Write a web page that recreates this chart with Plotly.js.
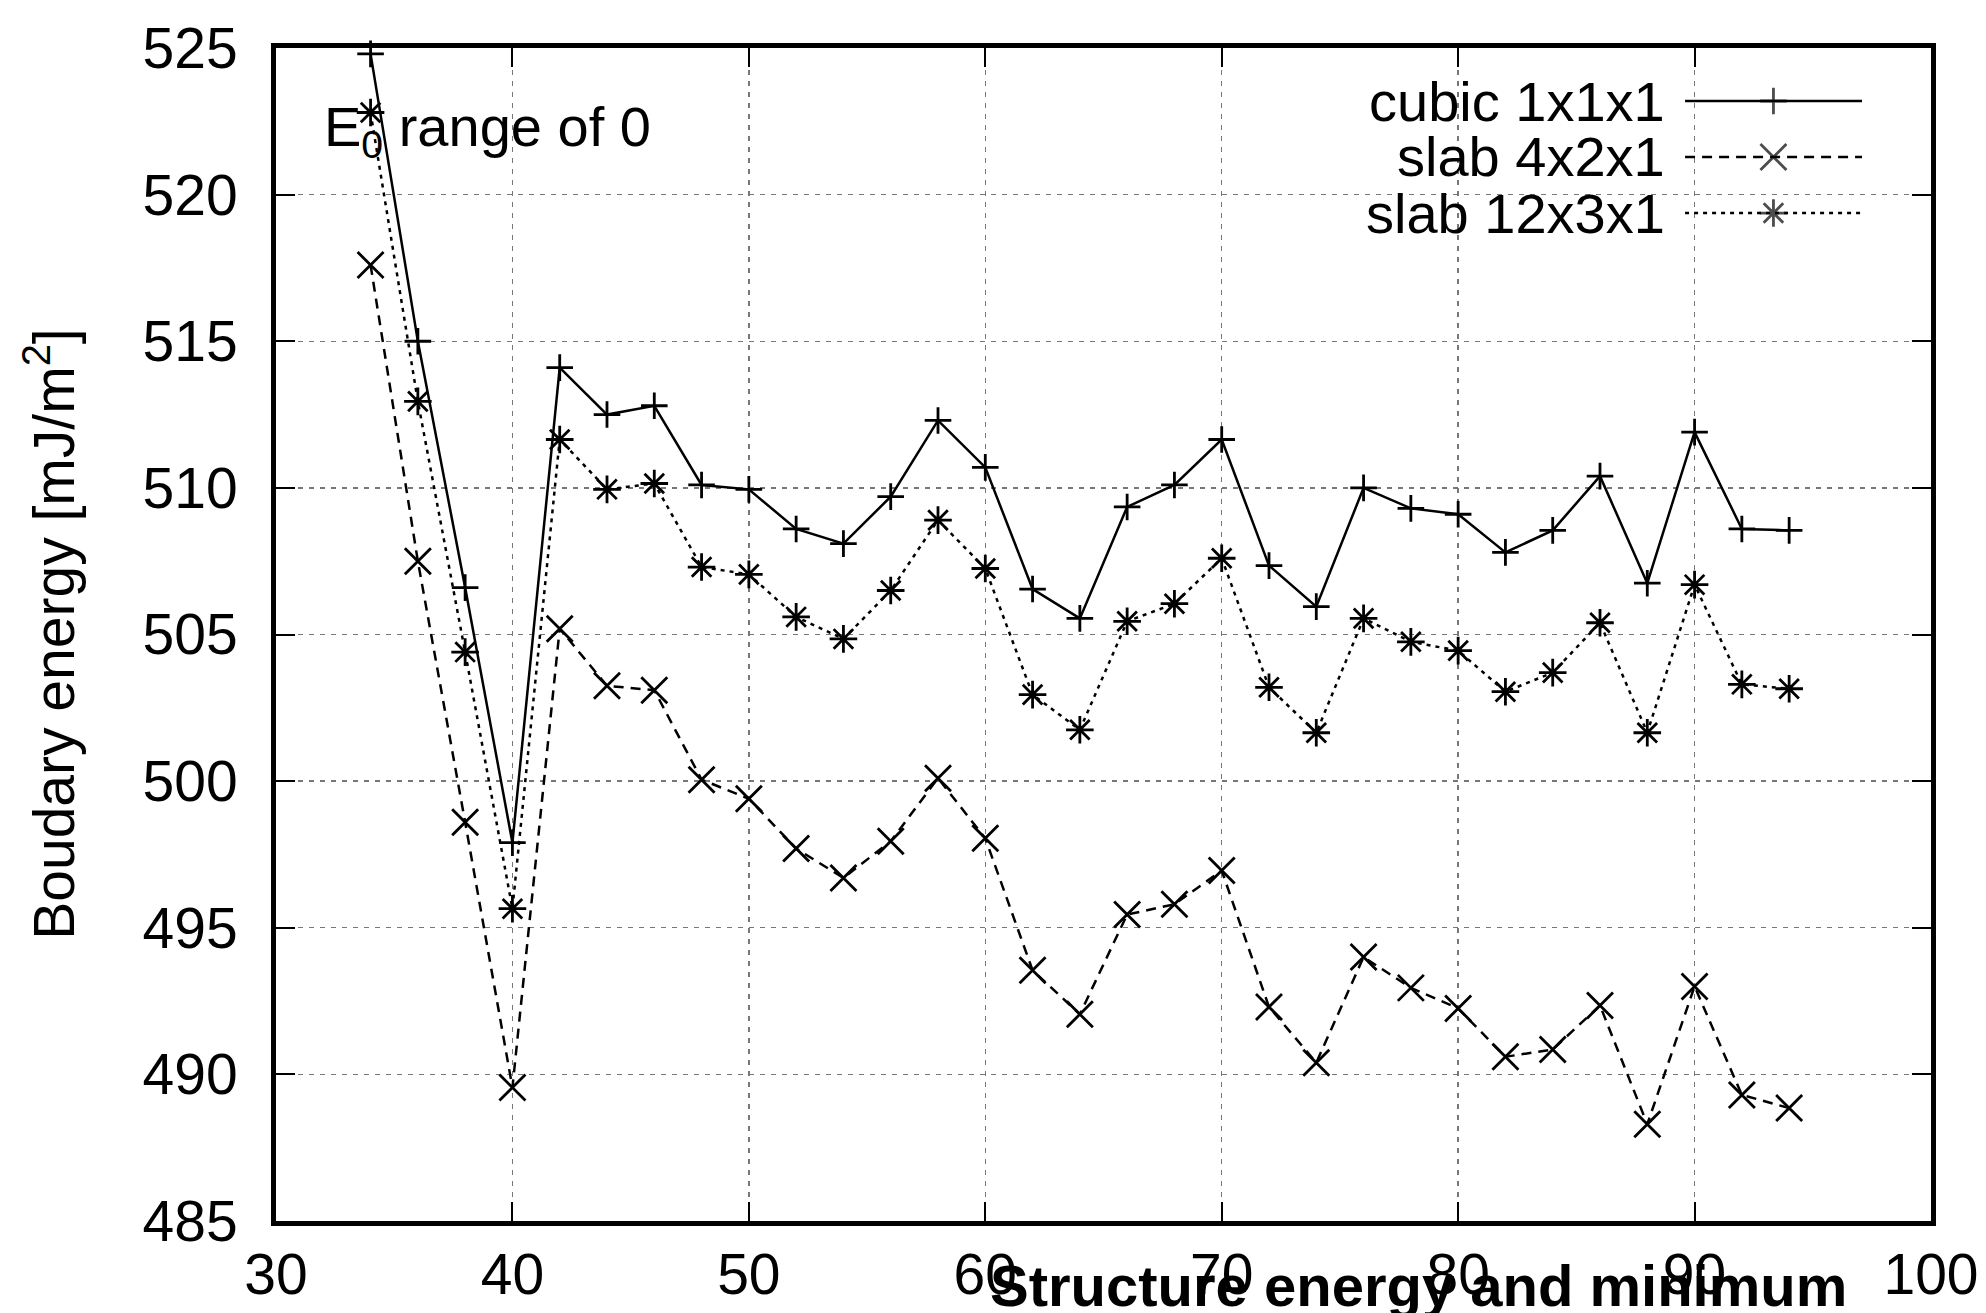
<!DOCTYPE html>
<html>
<head>
<meta charset="utf-8">
<script src="https://cdn.plot.ly/plotly-3.0.1.min.js"></script>
<style>html,body{margin:0;padding:0;background:#fff;}#chart{width:1986px;height:1313px;}</style>
</head>
<body>
<div id="chart"></div>
<script>
// ---- data ----
const xValues = [34,36,38,40,42,44,46,48,50,52,54,56,58,60,62,64,66,68,70,72,74,76,78,80,82,84,86,88,90,92,94];
const cubic1x1x1 = [524.8,515.0,506.6,497.9,514.1,512.5,512.8,510.1,509.95,508.6,508.1,509.7,512.3,510.7,506.55,505.55,509.35,510.1,511.65,507.35,505.95,510.0,509.3,509.1,507.8,508.55,510.4,506.75,511.9,508.6,508.55];
const slab4x2x1 = [517.6,507.5,498.6,489.55,505.2,503.25,503.1,500.05,499.4,497.7,496.7,497.95,500.1,498.05,493.55,492.05,495.45,495.8,496.95,492.3,490.4,494.0,492.95,492.25,490.6,490.85,492.35,488.3,493.0,489.3,488.85];
const slab12x3x1 = [522.8,512.95,504.4,495.65,511.65,509.95,510.15,507.3,507.05,505.6,504.85,506.5,508.9,507.25,502.95,501.75,505.45,506.05,507.6,503.2,501.65,505.55,504.75,504.45,503.05,503.7,505.4,501.65,506.7,503.3,503.15];
const seriesNames = ['cubic 1x1x1','slab 4x2x1','slab 12x3x1'];
const xTickVals = [30,40,50,60,70,80,90,100];
const yTickVals = [485,490,495,500,505,510,515,520,525];

// ---- styles ----
const FONT = 'Liberation Sans, Arial, Helvetica, sans-serif';
const styles = [
  {dash:'solid',     symbol:'cross-thin-open', size:19},
  {dash:'10px,7px',  symbol:'x-thin-open',     size:26},
  {dash:'4px,5px',   symbol:'asterisk-open',   size:23}
];
const seriesY = [cubic1x1x1, slab4x2x1, slab12x3x1];

const traces = seriesY.map((ys, i) => ({
  type:'scatter', mode:'lines+markers', name:seriesNames[i],
  x:xValues, y:ys, showlegend:false, cliponaxis:false,
  line:{color:'#000', width:2.5, dash:styles[i].dash},
  marker:{symbol:styles[i].symbol, size:styles[i].size, color:'#000',
          line:{color:'#000', width:2.8}}
}));

// custom key (text on the left, sample on the right, as in the reference)
const keyRowsY = [0.9548, 0.9071, 0.8593];
const keyX = [0.8514, 0.9048, 0.9583];
const keyTraces = seriesY.map((ys, i) => ({
  type:'scatter', mode:'lines+markers', xaxis:'x2', yaxis:'y2',
  x:keyX, y:[keyRowsY[i], keyRowsY[i], keyRowsY[i]], showlegend:false, hoverinfo:'skip',
  line:{color:'#000', width:2.5, dash:styles[i].dash},
  marker:{symbol:styles[i].symbol, size:[0, styles[i].size, 0], color:'#000',
          line:{color:'#000', width:2.8}}
}));

const keyAnnotations = seriesNames.map((n, i) => ({
  xref:'paper', yref:'paper', x:0.8405, y:keyRowsY[i], xanchor:'right', yanchor:'middle',
  text:n, showarrow:false, font:{family:FONT, size:56, color:'#000'}
}));

const axisCommon = {
  showline:true, linecolor:'#000', linewidth:5, mirror:'ticks',
  ticks:'inside', ticklen:19, tickwidth:2, tickcolor:'#000',
  showgrid:true, gridcolor:'#777', gridwidth:1.3, griddash:'5px,6px',
  zeroline:false, tickfont:{family:FONT, size:57, color:'#000'}
};

const layout = {
  width:1986, height:1313,
  margin:{l:276, r:55, t:48, b:92, pad:0},
  paper_bgcolor:'#fff', plot_bgcolor:'#fff',
  showlegend:false,
  xaxis:Object.assign({}, axisCommon, {range:[30,100], tickvals:xTickVals, ticklabelstandoff:0}),
  yaxis:Object.assign({}, axisCommon, {range:[485,525], tickvals:yTickVals, ticklabelstandoff:22}),
  xaxis2:{overlaying:'x', range:[0,1], visible:false, fixedrange:true},
  yaxis2:{overlaying:'y', range:[0,1], visible:false, fixedrange:true},
  shapes:[
    {type:'rect', xref:'paper', yref:'paper', x0:0.610, x1:0.998, y0:0.8414, y1:0.9795,
     fillcolor:'#fff', line:{width:0}, layer:'between'}
  ],
  annotations:[
    {xref:'paper', yref:'paper', x:-0.137, y:0.5, xanchor:'center', yanchor:'middle', textangle:-90,
     text:'Boudary energy [mJ/m<sup>2</sup>]', showarrow:false, font:{family:FONT, size:57, color:'#000'}},
    {xref:'paper', yref:'paper', x:0.6906, y:-0.0546, xanchor:'center', yanchor:'middle',
     text:'<b>Structure energy and minimum</b>', showarrow:false, font:{family:FONT, size:58, color:'#000'}},
    {xref:'paper', yref:'paper', x:0.0278, y:0.9295, xanchor:'left', yanchor:'middle',
     text:'E<sub>0</sub> range of 0', showarrow:false, font:{family:FONT, size:56, color:'#000'}}
  ].concat(keyAnnotations)
};

Plotly.newPlot('chart', traces.concat(keyTraces), layout, {staticPlot:true, displayModeBar:false});
</script>
</body>
</html>
